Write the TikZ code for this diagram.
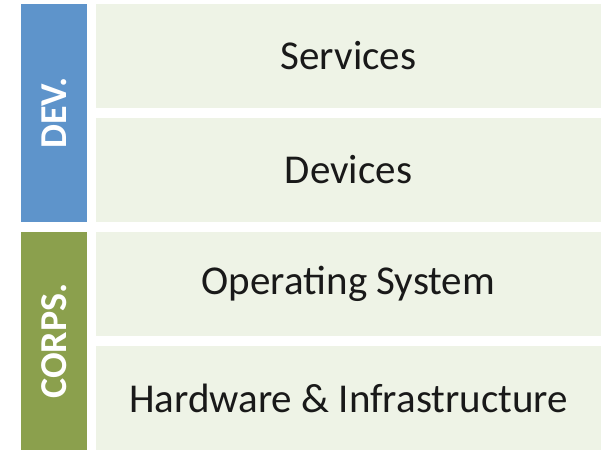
\documentclass[tikz,border=0pt]{standalone}
\usepackage{fontspec}
\setmainfont{Carlito}
\definecolor{devblue}{HTML}{5E94CB}
\definecolor{corpgreen}{HTML}{8BA04D}
\definecolor{layerfill}{HTML}{EEF3E6}

\begin{document}
\begin{tikzpicture}[x=1pt,y=-1pt]
\tikzstyle{every node}=[font=\fontsize{41}{48}\selectfont, inner sep=0pt]
\tikzstyle{layer}=[fill=layerfill, text=black!90, minimum width=505pt, minimum height=104pt]
\tikzstyle{side}=[text=white, font=\fontsize{38}{44}\selectfont\bfseries, minimum width=218pt, minimum height=66pt, rotate=90]
\useasboundingbox (0,0) rectangle (606,450);

% layers
\node[layer] (services) at (348.5,56) {Services};
\node[layer] (devices) at (348.5,170) {Devices};
\node[layer] (os) at (348.5,284) {Operating System};
\node[layer] (hardware) at (348.5,398) {Hardware \& Infrastructure};

% side bars
\node[side, fill=devblue] (dev) at (54,113) {DEV.};
\node[side, fill=corpgreen] (corps) at (54,341) {CORPS.};
\end{tikzpicture}
\end{document}
